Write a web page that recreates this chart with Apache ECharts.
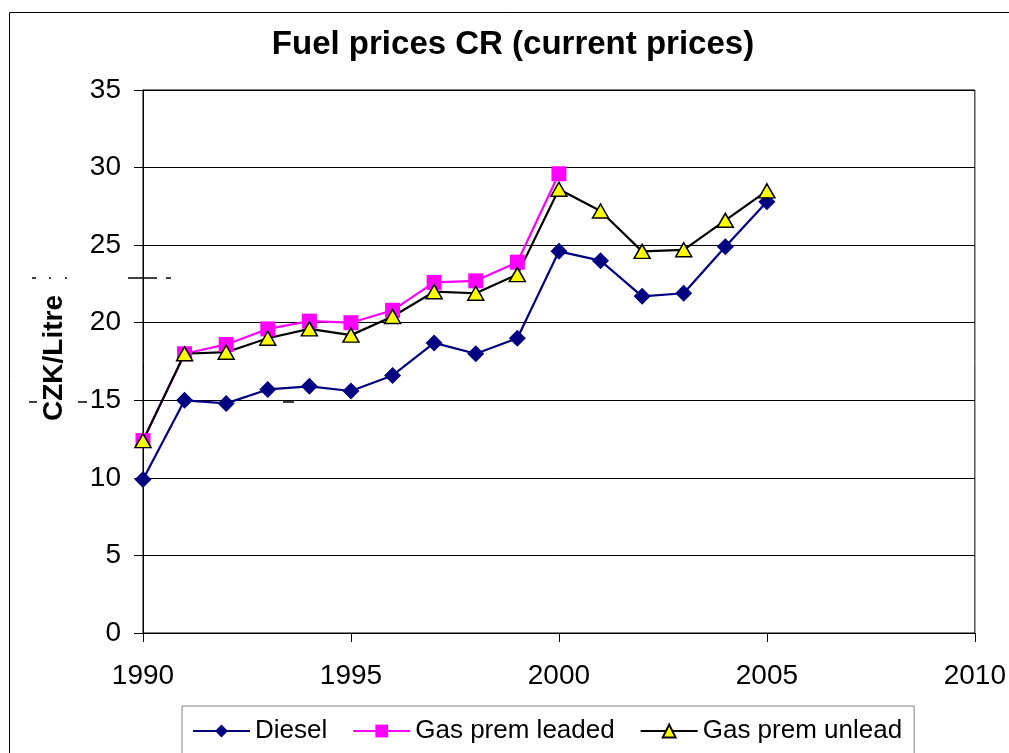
<!DOCTYPE html>
<html>
<head>
<meta charset="utf-8">
<script src="https://cdn.jsdelivr.net/npm/echarts@6/dist/echarts.min.js"></script>
<style>
  html, body { margin: 0; padding: 0; background: #fff; }
  #chart { width: 1009px; height: 753px; }
</style>
</head>
<body>
<div id="chart"></div>
<script>
var years = [1990, 1991, 1992, 1993, 1994, 1995, 1996, 1997, 1998, 1999, 2000, 2001, 2002, 2003, 2004, 2005];
var diesel = [9.9, 15.0, 14.8, 15.7, 15.9, 15.6, 16.6, 18.7, 18.0, 19.0, 24.6, 24.0, 21.7, 21.9, 24.9, 27.8];
var leaded = [12.4, 18.0, 18.6, 19.6, 20.1, 20.0, 20.8, 22.6, 22.7, 23.9, 29.6];
var unleaded = [12.4, 18.0, 18.1, 19.0, 19.6, 19.2, 20.4, 22.0, 21.9, 23.1, 28.6, 27.2, 24.6, 24.7, 26.6, 28.5];
var seriesNames = ['Diesel', 'Gas prem leaded', 'Gas prem unlead'];

function pairs(vals) {
    return vals.map(function (v, i) { return [years[i], v]; });
}

var font = 'Liberation Sans, Arial, sans-serif';
var chart = echarts.init(document.getElementById('chart'));

// stray dash marks in the original image
function dash(x1, y1, x2, y2) {
    return { type: 'line', shape: { x1: x1, y1: y1, x2: x2, y2: y2 }, style: { stroke: '#000', lineWidth: 1.5 }, z: 10 };
}

var option = {
    animation: false,
    backgroundColor: '#fff',
    title: {
        text: 'Fuel prices CR (current prices)',
        left: 508,
        textAlign: 'center',
        top: 23,
        textStyle: { fontFamily: font, fontSize: 33, fontWeight: 'bold', color: '#000' }
    },
    grid: {
        left: 143, right: 34, top: 90, bottom: 120,
        show: true, borderColor: '#000', borderWidth: 1
    },
    legend: {
        data: seriesNames,
        left: 182,
        top: 706,
        padding: [12, 12, 40, 10],
        borderColor: '#808080',
        borderWidth: 1,
        itemGap: 25,
        itemWidth: 57,
        itemHeight: 16,
        selectedMode: false,
        textStyle: { fontFamily: font, fontSize: 26, color: '#000' }
    },
    xAxis: {
        type: 'value',
        min: 1990, max: 2010, interval: 5,
        axisLine: { lineStyle: { color: '#000', width: 1 } },
        axisTick: { show: true, length: 9, lineStyle: { color: '#000' } },
        axisLabel: {
            margin: 29, fontFamily: font, fontSize: 28, color: '#000',
            formatter: function (v) { return String(v); }
        },
        splitLine: { show: false }
    },
    yAxis: {
        type: 'value',
        min: 0, max: 35, interval: 5,
        axisLine: { show: true, lineStyle: { color: '#000', width: 1 } },
        axisTick: { show: true, length: 9, lineStyle: { color: '#000' } },
        axisLabel: { margin: 22, fontFamily: font, fontSize: 28, color: '#000' },
        splitLine: { show: true, lineStyle: { color: '#000', width: 1 } }
    },
    graphic: [
        {
            type: 'rect', shape: { x: 9.5, y: 12.5, width: 1200, height: 1200 },
            style: { fill: 'none', stroke: '#000', lineWidth: 1 }, z: -1
        },
        {
            type: 'text', x: 54, y: 358, rotation: Math.PI / 2,
            style: {
                text: 'CZK/Litre', fontFamily: font, fontSize: 28, fontWeight: 'bold',
                fill: '#000', align: 'center', verticalAlign: 'middle'
            }
        },
        dash(32, 278, 36, 278), dash(49, 278, 51, 278), dash(65, 278, 67, 278),
        dash(128, 278, 157, 278), dash(166, 278, 171, 278),
        dash(29, 402, 37, 402), dash(78, 402, 87, 402), dash(283, 402, 294, 402)
    ],
    series: [
        {
            name: seriesNames[0], type: 'line', data: pairs(diesel),
            symbol: 'diamond', symbolSize: 17,
            lineStyle: { color: '#000080', width: 2.2 },
            itemStyle: { color: '#000080' }
        },
        {
            name: seriesNames[1], type: 'line', data: pairs(leaded),
            symbol: 'rect', symbolSize: 15,
            lineStyle: { color: '#ff00ff', width: 2.2 },
            itemStyle: { color: '#ff00ff' }
        },
        {
            name: seriesNames[2], type: 'line', data: pairs(unleaded),
            symbol: 'triangle', symbolSize: [16, 14],
            lineStyle: { color: '#000', width: 2.2 },
            itemStyle: { color: '#ffff00', borderColor: '#000', borderWidth: 1.5 }
        }
    ]
};
chart.setOption(option);
</script>
</body>
</html>
